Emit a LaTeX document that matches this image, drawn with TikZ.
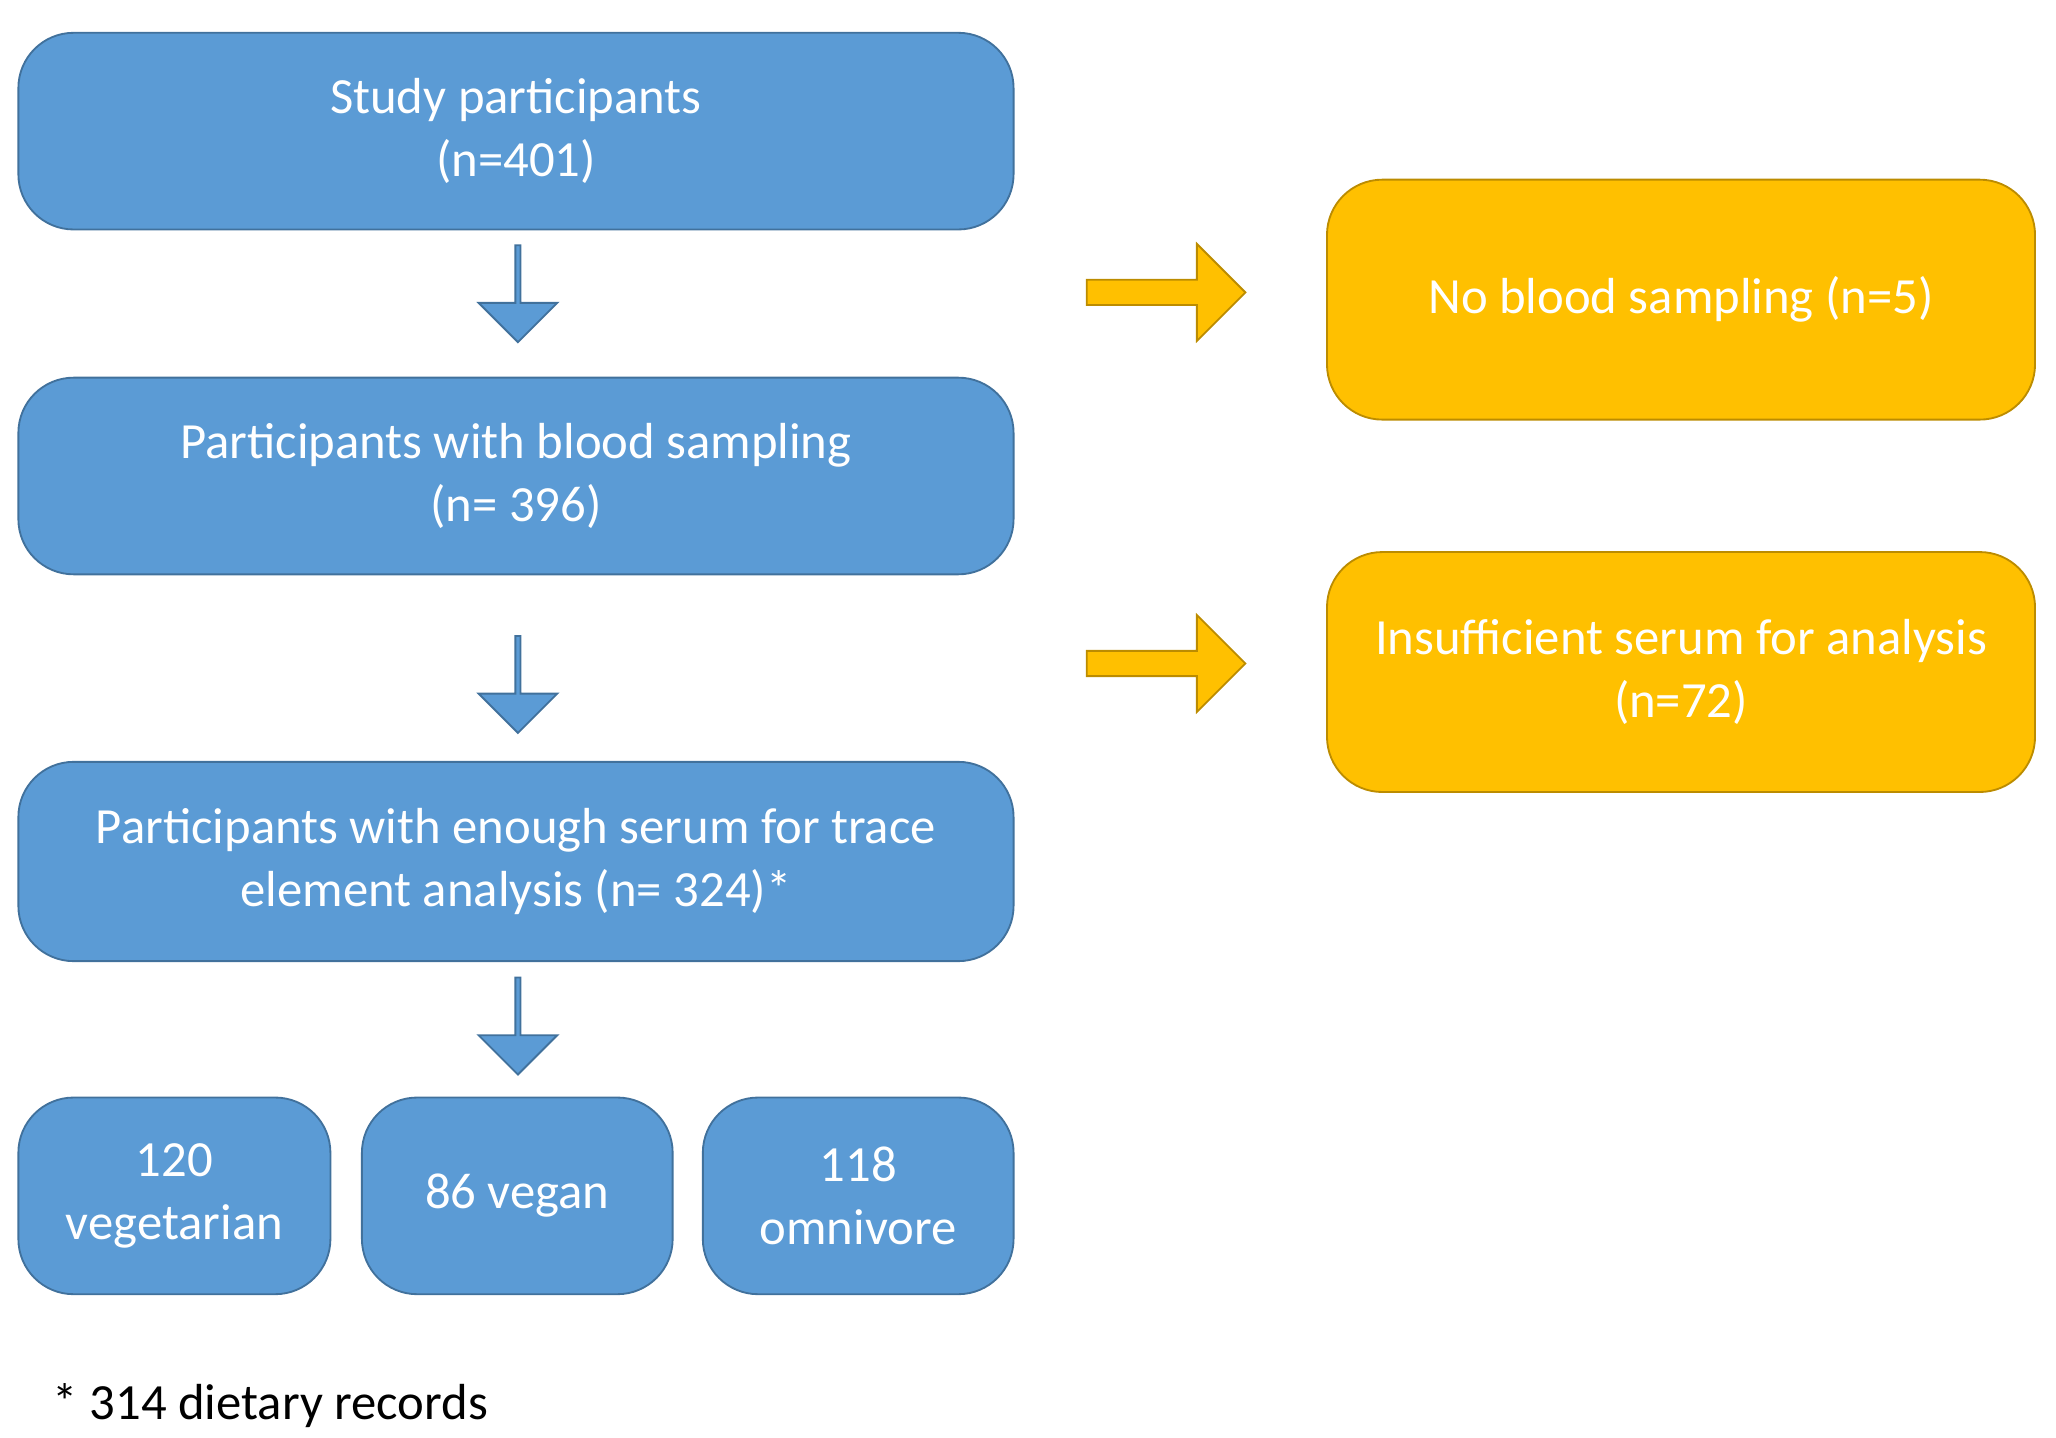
\documentclass[tikz,border=0pt]{standalone}
\usepackage{fontspec}
\setmainfont{Carlito}
\usetikzlibrary{shapes.arrows}
\definecolor{boxblue}{HTML}{5B9BD5}
\definecolor{lineblue}{HTML}{41719C}
\definecolor{boxgold}{HTML}{FFC000}
\definecolor{linegold}{HTML}{BC8C00}
\tikzset{blk/.style = {rectangle, rounded corners=12pt, draw=lineblue, fill=boxblue, text=white, align=center, font=\fontsize{11}{13.7}\selectfont, inner sep=2pt},
  gld/.style = {blk, draw=linegold, fill=boxgold},
  darr/.style = {single arrow, draw=lineblue, fill=boxblue, shape border rotate=270, minimum width=0.6cm, single arrow head extend=0.1cm, minimum height=0.74cm, inner sep=0pt},
  rarr/.style = {single arrow, draw=linegold, fill=boxgold, minimum width=0.74cm, single arrow head extend=0.02cm, minimum height=1.21cm, inner sep=0pt}}
\begin{document}
\begin{tikzpicture}
\useasboundingbox (0,0) rectangle (15.68,-10.96);
\node [blk, minimum width=7.59cm, minimum height=1.5cm] (P) at (3.935,-1.0) {Study participants\\(n=401)};
\node [darr] (A1) at (3.95,-2.23) {};
\node [blk, minimum width=7.59cm, minimum height=1.5cm] (B) at (3.935,-3.63) {Participants with blood sampling\\(n= 396)};
\node [darr] (A2) at (3.95,-5.21) {};
\node [blk, minimum width=7.59cm, minimum height=1.52cm] (S) at (3.935,-6.57) {Participants with enough serum for trace\\element analysis (n= 324)*};
\node [darr] (A3) at (3.95,-7.815) {};
\node [blk, minimum width=2.38cm, minimum height=1.5cm] (V1) at (1.33,-9.12) {120\\vegetarian};
\node [blk, minimum width=2.37cm, minimum height=1.5cm] (V2) at (3.945,-9.12) {86 vegan};
\node [blk, minimum width=2.37cm, minimum height=1.5cm] (V3) at (6.545,-9.12) {118\\omnivore};
\node [rarr] (R1) at (8.845,-2.23) {};
\node [gld, minimum width=5.4cm, minimum height=1.83cm] (N) at (12.82,-2.285) {No blood sampling (n=5)};
\node [rarr] (R2) at (8.845,-5.06) {};
\node [gld, minimum width=5.4cm, minimum height=1.83cm] (I) at (12.82,-5.125) {Insufficient serum for analysis\\(n=72)};
\node [anchor=west, font=\fontsize{11}{13.7}\selectfont] (F) at (0.28,-10.72) {* 314 dietary records};
\end{tikzpicture}
\end{document}
